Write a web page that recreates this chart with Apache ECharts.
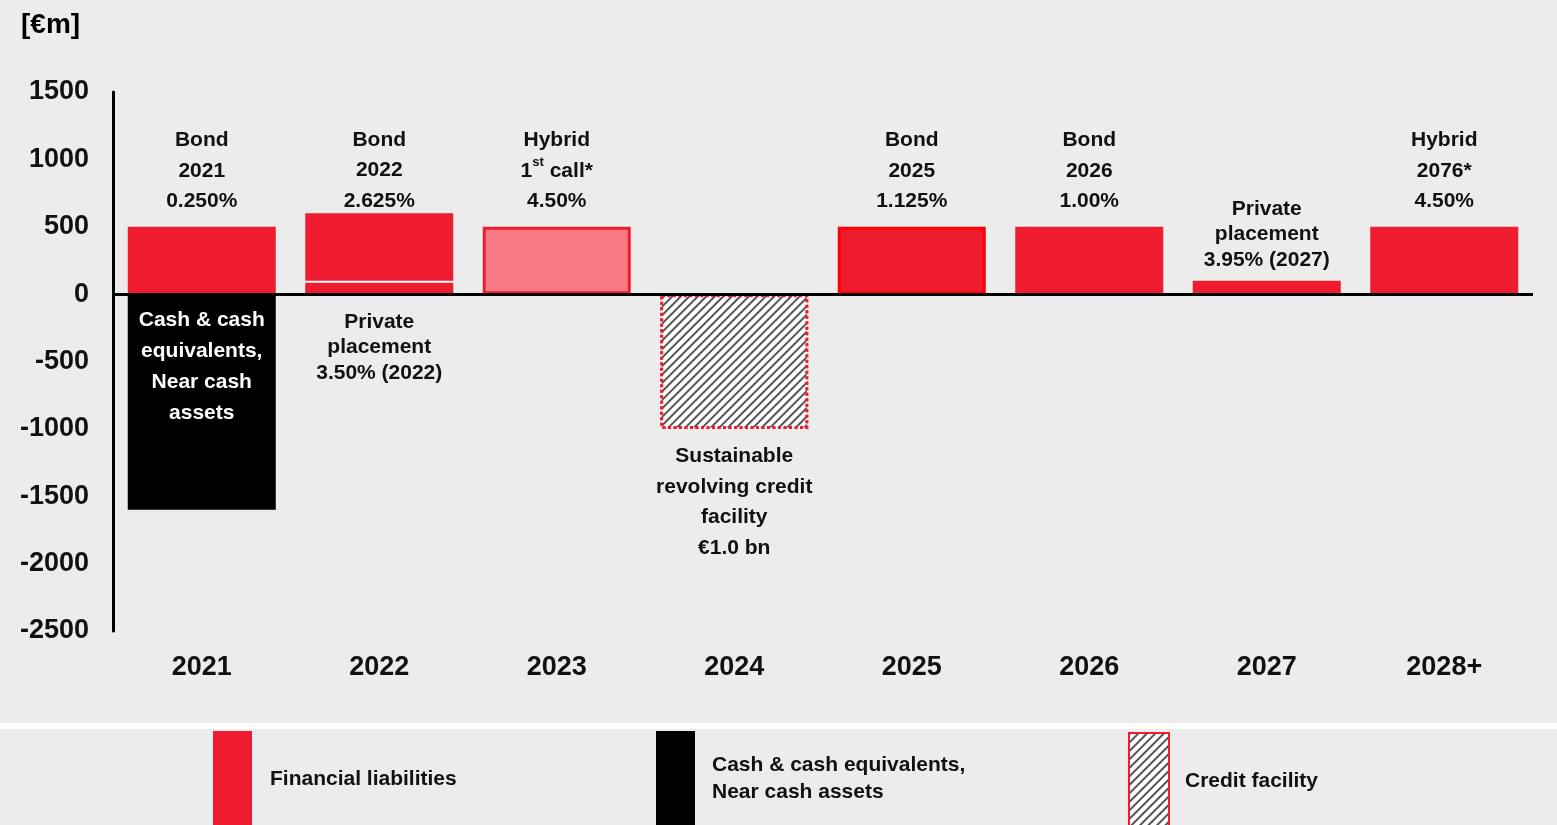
<!DOCTYPE html>
<html>
<head>
<meta charset="utf-8">
<title>Maturity profile</title>
<script src="https://cdn.jsdelivr.net/npm/echarts@6/dist/echarts.min.js"></script>
<style>
  html, body { margin: 0; padding: 0; background: #ececec; }
  #chart { width: 1557px; height: 825px; }
</style>
</head>
<body>
<div id="chart"></div>
<script>
// values in EUR m
const categories = ['2021', '2022', '2023', '2024', '2025', '2026', '2027', '2028+']
const privatePlacements = [null, 100, null, null, null, null, 100, null]
const bondsAndHybrids = [500, 500, 500, null, 500, 500, null, 500]
const cashAssets = [-1600, null, null, null, null, null, null, null]
const creditFacility = [null, null, null, -1000, null, null, null, null]

const yMin = -2500
const yMax = 1500
const yStep = 500

const notesAbove = [
  'Bond\n2021\n0.250%',
  'Bond\n2022\n2.625%',
  'Hybrid\n1{sup|st} call*\n4.50%',
  '',
  'Bond\n2025\n1.125%',
  'Bond\n2026\n1.00%',
  'Private\nplacement\n3.95% (2027)',
  'Hybrid\n2076*\n4.50%'
]
const notesBelow = [
  '',
  'Private\nplacement\n3.50% (2022)',
  '',
  'Sustainable\nrevolving credit\nfacility\n€1.0 bn',
  '', '', '', ''
]
const cashNote = 'Cash & cash\nequivalents,\nNear cash\nassets'

const RED = '#ee1c2e'
const FONT = '"Liberation Sans", Arial, sans-serif'

const noteStyle = {
  show: true,
  color: '#111',
  fontFamily: FONT,
  fontWeight: 'bold',
  fontSize: 21,
  lineHeight: 30.5,
  rich: {
    sup: { fontSize: 13, fontWeight: 'bold', fontFamily: FONT, color: '#111', verticalAlign: 'top', lineHeight: 22 }
  }
}

// private placements sit at the bottom of the stack
const ppData = privatePlacements.map((v, i) => {
  if (v == null) return v
  const item = { value: v }
  if (bondsAndHybrids[i] == null) {
    // nothing stacked above, note goes on top
    item.label = Object.assign({}, noteStyle, {
      position: 'top', distance: 8, lineHeight: 25.5, formatter: notesAbove[i]
    })
  } else {
    item.label = Object.assign({}, noteStyle, {
      position: 'bottom', distance: 15, lineHeight: 25.5, formatter: notesBelow[i]
    })
  }
  return item
})

const bhData = bondsAndHybrids.map((v, i) => {
  if (v == null) return v
  const item = {
    value: v,
    label: Object.assign({}, noteStyle, {
      position: 'top',
      distance: privatePlacements[i] ? -3 : 10,
      formatter: notesAbove[i]
    })
  }
  if (privatePlacements[i]) {
    // thin white gap between bond and private placement
    item.itemStyle = { shadowColor: '#ffffff', shadowBlur: 0, shadowOffsetY: 2 }
  }
  if (categories[i] === '2023') {
    item.itemStyle = { color: '#f97a84', borderColor: RED, borderWidth: 3 }
  } else if (categories[i] === '2025') {
    item.itemStyle = { borderColor: '#ff0000', borderWidth: 3 }
  }
  return item
})

const chart = echarts.init(document.getElementById('chart'), null, { renderer: 'canvas' })

const legendText = { fontFamily: FONT, fontWeight: 'bold', fontSize: 21, color: '#111' }

const option = {
  backgroundColor: '#ececec',
  animation: false,
  title: {
    text: '[€m]',
    left: 16,
    top: 6,
    textStyle: { fontFamily: FONT, fontWeight: 'bold', fontSize: 28, color: '#000' }
  },
  graphic: [
    { type: 'rect', shape: { x: 0, y: 723, width: 1557, height: 6 }, style: { fill: '#fff' }, silent: true }
  ],
  legend: [
    {
      data: ['Financial liabilities'],
      left: 213, top: 731, padding: 0,
      itemWidth: 39, itemHeight: 96, icon: 'rect',
      textStyle: Object.assign({}, legendText, { padding: [4, 0, 0, 13] })
    },
    {
      data: ['Cash & cash equivalents, Near cash assets'],
      left: 656, top: 731, padding: 0,
      itemWidth: 39, itemHeight: 96, icon: 'rect',
      formatter: () => 'Cash & cash equivalents,\nNear cash assets',
      textStyle: Object.assign({}, legendText, { lineHeight: 27, padding: [2, 0, 0, 12] })
    },
    {
      data: ['Credit facility'],
      left: 1128, top: 732, padding: 0,
      itemWidth: 40, itemHeight: 96, icon: 'rect',
      textStyle: Object.assign({}, legendText, { padding: [0, 0, 0, 11] })
    }
  ],
  grid: { left: 113, right: 24, top: 92, bottom: 194 },
  xAxis: {
    type: 'category',
    data: categories,
    axisLine: { show: false },
    axisTick: { show: false },
    axisLabel: { margin: 23, color: '#111', fontFamily: FONT, fontWeight: 'bold', fontSize: 27 }
  },
  yAxis: {
    type: 'value',
    min: yMin,
    max: yMax,
    interval: yStep,
    axisLine: { show: true, lineStyle: { color: '#000', width: 3 } },
    axisTick: { show: false },
    splitLine: { show: false },
    axisLabel: {
      margin: 24, color: '#111', fontFamily: FONT, fontWeight: 'bold', fontSize: 27,
      formatter: (v) => String(v)
    }
  },
  series: [
    {
      name: 'Financial liabilities',
      type: 'bar',
      stack: 'all',
      barWidth: 148,
      itemStyle: { color: RED },
      data: ppData,
      markLine: {
        silent: true,
        symbol: 'none',
        z: 10,
        label: { show: false },
        lineStyle: { color: '#000', width: 3, type: 'solid' },
        data: [{ yAxis: 0 }]
      }
    },
    {
      name: 'Financial liabilities',
      type: 'bar',
      stack: 'all',
      barWidth: 148,
      itemStyle: { color: RED },
      data: bhData
    },
    {
      name: 'Cash & cash equivalents, Near cash assets',
      type: 'bar',
      stack: 'all',
      barWidth: 148,
      itemStyle: { color: '#000' },
      label: Object.assign({}, noteStyle, {
        position: 'insideTop', distance: 11, color: '#fff', lineHeight: 31,
        formatter: cashNote
      }),
      data: cashAssets
    },
    {
      name: 'Credit facility',
      type: 'bar',
      stack: 'all',
      barWidth: 146,
      itemStyle: {
        color: '#ffffff',
        borderColor: RED,
        borderWidth: 3,
        borderType: [3, 2.5],
        decal: {
          symbol: 'rect',
          symbolSize: 1,
          color: '#555',
          backgroundColor: '#ffffff',
          dashArrayX: [1, 0],
          dashArrayY: [1.6, 3.2],
          rotation: -Math.PI / 4
        }
      },
      label: Object.assign({}, noteStyle, {
        position: 'bottom', distance: 12, lineHeight: 30.7,
        formatter: (p) => notesBelow[p.dataIndex]
      }),
      data: creditFacility
    }
  ]
}

chart.setOption(option)
</script>
</body>
</html>
